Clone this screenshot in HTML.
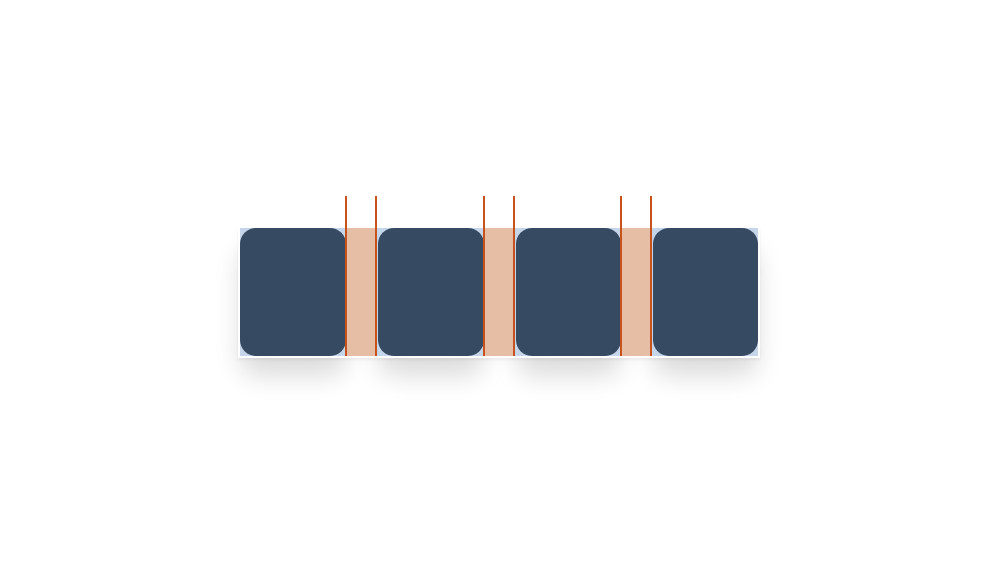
<!DOCTYPE html>
<html><head><meta charset="utf-8"><style>
html,body{margin:0;padding:0;background:#fff;width:998px;height:584px;overflow:hidden;position:relative}
.wrap{position:absolute;left:238px;top:227px;width:522px;height:131px;background:#fff;box-shadow:0 2px 3px rgba(0,0,0,0.06)}
.bg{position:absolute;left:240px;top:228px;width:518px;height:128px;background:#c5d6ea}
.box{position:absolute;top:228px;width:106px;height:128px;background:#364a61;border-radius:16px;box-shadow:0 20px 26px rgba(0,0,0,0.14)}
.gap{position:absolute;top:228px;height:128px;background:#e6bea6}
.ln{position:absolute;top:196px;width:2px;height:160px;background:#c8521c}
</style></head><body>
<div class="box" style="left:240px"></div>
<div class="box" style="left:378px"></div>
<div class="box" style="left:516px;width:105px"></div>
<div class="box" style="left:653px;width:105px"></div>
<div class="wrap"></div>
<div class="bg"></div>
<div class="box" style="left:240px;box-shadow:none"></div>
<div class="box" style="left:378px;box-shadow:none"></div>
<div class="box" style="left:516px;width:105px;box-shadow:none"></div>
<div class="box" style="left:653px;width:105px;box-shadow:none"></div>
<div class="gap" style="left:346px;width:31px"></div>
<div class="gap" style="left:484px;width:31px"></div>
<div class="gap" style="left:621px;width:31px"></div>
<div class="ln" style="left:345px"></div>
<div class="ln" style="left:375px"></div>
<div class="ln" style="left:483px"></div>
<div class="ln" style="left:513px"></div>
<div class="ln" style="left:620px"></div>
<div class="ln" style="left:650px"></div>
</body></html>
